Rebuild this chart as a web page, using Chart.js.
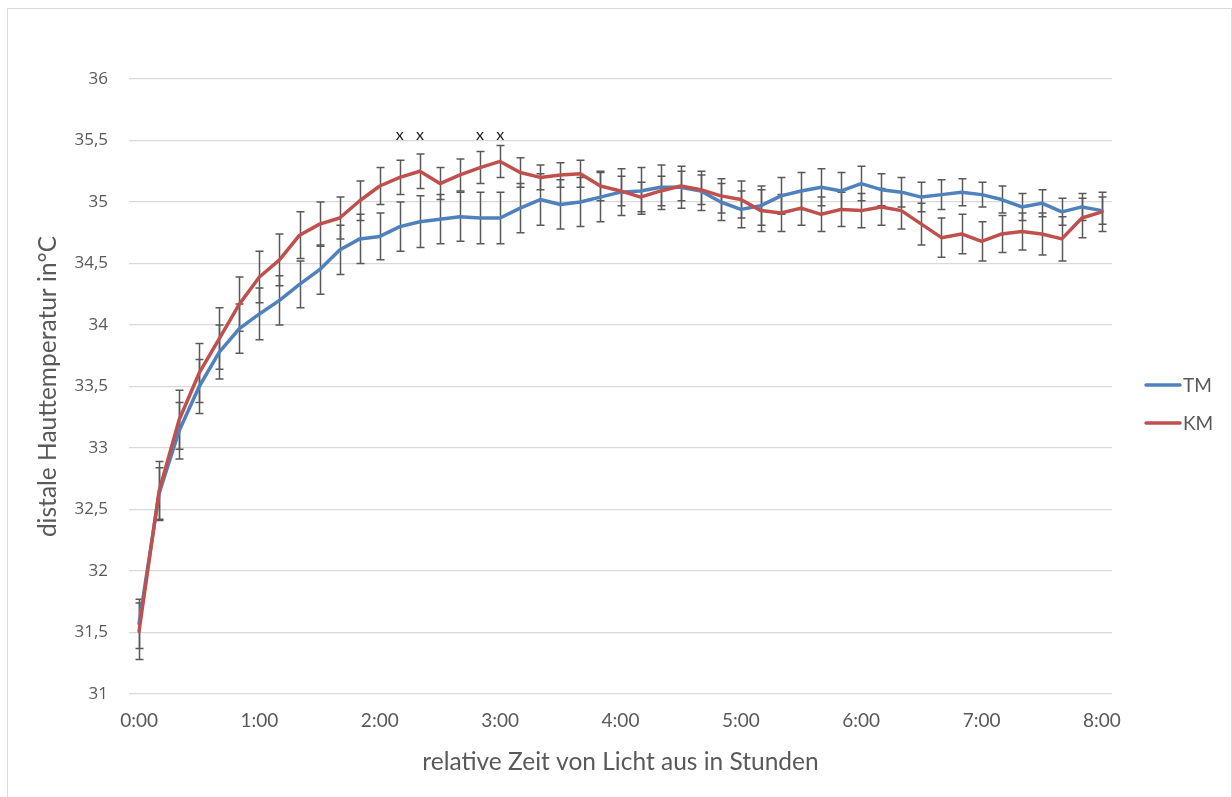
<!DOCTYPE html>
<html lang="de">
<head>
<meta charset="utf-8">
<title>Distale Hauttemperatur</title>
<script src="https://cdn.jsdelivr.net/npm/chart.js@4.4.1/dist/chart.umd.min.js"></script>
<style>
  html, body { margin: 0; padding: 0; background: #ffffff; }
  canvas { display: block; }
</style>
</head>
<body>
<canvas id="chart" width="1232" height="797"></canvas>
<script>
// Zeitpunkte (10-Minuten-Raster nach "Licht aus")
const timeLabels = [
  '0:00','0:10','0:20','0:30','0:40','0:50',
  '1:00','1:10','1:20','1:30','1:40','1:50',
  '2:00','2:10','2:20','2:30','2:40','2:50',
  '3:00','3:10','3:20','3:30','3:40','3:50',
  '4:00','4:10','4:20','4:30','4:40','4:50',
  '5:00','5:10','5:20','5:30','5:40','5:50',
  '6:00','6:10','6:20','6:30','6:40','6:50',
  '7:00','7:10','7:20','7:30','7:40','7:50',
  '8:00'
];

// beschriftete Stunden auf der x-Achse
const hourTicks = ['0:00','1:00','2:00','3:00','4:00','5:00','6:00','7:00','8:00'];

// Beschriftung der y-Achse (°C)
const yTickLabels = ['31','31,5','32','32,5','33','33,5','34','34,5','35','35,5','36'];

// TM: Mittelwerte und Fehlerbalken
const tmValues = [
  31.57, 32.63, 33.14, 33.50, 33.78, 33.97,
  34.09, 34.20, 34.33, 34.45, 34.61, 34.70,
  34.72, 34.80, 34.84, 34.86, 34.88, 34.87,
  34.87, 34.95, 35.02, 34.98, 35.00, 35.04,
  35.08, 35.09, 35.12, 35.12, 35.09, 35.00,
  34.94, 34.97, 35.05, 35.09, 35.12, 35.09,
  35.15, 35.10, 35.08, 35.04, 35.06, 35.08,
  35.06, 35.02, 34.96, 34.99, 34.92, 34.96,
  34.93
];
const tmErrors = [
  0.20, 0.21, 0.23, 0.22, 0.22, 0.20,
  0.21, 0.20, 0.19, 0.20, 0.20, 0.20,
  0.19, 0.20, 0.21, 0.20, 0.20, 0.21,
  0.21, 0.20, 0.21, 0.20, 0.20, 0.20,
  0.19, 0.19, 0.18, 0.17, 0.16, 0.15,
  0.15, 0.16, 0.15, 0.15, 0.15, 0.15,
  0.14, 0.13, 0.12, 0.12, 0.12, 0.11,
  0.10, 0.11, 0.11, 0.11, 0.11, 0.11,
  0.11
];

// KM: Mittelwerte und Fehlerbalken
const kmValues = [
  31.51, 32.65, 33.23, 33.61, 33.89, 34.17,
  34.39, 34.53, 34.73, 34.82, 34.87, 35.01,
  35.13, 35.20, 35.25, 35.15, 35.22, 35.28,
  35.33, 35.24, 35.20, 35.22, 35.23, 35.13,
  35.09, 35.04, 35.09, 35.13, 35.10, 35.05,
  35.02, 34.93, 34.91, 34.95, 34.90, 34.94,
  34.93, 34.96, 34.93, 34.82, 34.71, 34.74,
  34.68, 34.74, 34.76, 34.74, 34.70, 34.87,
  34.92
];
const kmErrors = [
  0.23, 0.24, 0.24, 0.24, 0.25, 0.22,
  0.21, 0.21, 0.19, 0.18, 0.17, 0.16,
  0.15, 0.14, 0.14, 0.13, 0.13, 0.13,
  0.13, 0.12, 0.10, 0.10, 0.11, 0.12,
  0.12, 0.12, 0.12, 0.12, 0.12, 0.14,
  0.15, 0.17, 0.15, 0.14, 0.14, 0.14,
  0.14, 0.15, 0.15, 0.17, 0.16, 0.16,
  0.16, 0.15, 0.15, 0.17, 0.18, 0.16,
  0.16
];

// signifikante Unterschiede (mit "x" markiert) und Höhe der Markierung
const significantTimes = ['2:10', '2:20', '2:50', '3:00'];
const significanceLevel = 35.55;

const seriesNames = ['TM', 'KM'];
const seriesColors = ['#4f81bd', '#c0504d'];

const textColor = '#595959';

// Rahmen um die gesamte Grafik
const frame = {
  id: 'frame',
  beforeDraw(chart) {
    const { ctx, width, height } = chart;
    ctx.save();
    ctx.fillStyle = '#ffffff';
    ctx.fillRect(0, 0, width, height);
    ctx.strokeStyle = '#d9d9d9';
    ctx.lineWidth = 1;
    ctx.strokeRect(7.5, 8.5, width - 8, height + 10);
    ctx.restore();
  }
};

// Fehlerbalken (± Fehler) je Datenpunkt
const errorBars = {
  id: 'errorBars',
  beforeDatasetsDraw(chart) {
    const { ctx } = chart;
    const x = chart.scales.x, y = chart.scales.y;
    const cap = 4;
    ctx.save();
    ctx.strokeStyle = '#595959';
    ctx.lineWidth = 1.5;
    chart.data.datasets.forEach(ds => {
      ds.data.forEach((v, i) => {
        const e = ds.errors[i];
        const px = Math.round(x.getPixelForValue(i)) + 0.5;
        const top = y.getPixelForValue(v + e);
        const bottom = y.getPixelForValue(v - e);
        ctx.beginPath();
        ctx.moveTo(px, top);
        ctx.lineTo(px, bottom);
        ctx.moveTo(px - cap, top);
        ctx.lineTo(px + cap, top);
        ctx.moveTo(px - cap, bottom);
        ctx.lineTo(px + cap, bottom);
        ctx.stroke();
      });
    });
    ctx.restore();
  }
};

// "x"-Markierungen über den signifikanten Zeitpunkten
const significanceMarks = {
  id: 'significanceMarks',
  afterDatasetsDraw(chart) {
    const { ctx } = chart;
    const x = chart.scales.x, y = chart.scales.y;
    ctx.save();
    ctx.fillStyle = '#1a1a1a';
    ctx.font = '16px Lato';
    ctx.textAlign = 'center';
    ctx.textBaseline = 'middle';
    significantTimes.forEach(t => {
      const i = timeLabels.indexOf(t);
      ctx.fillText('x', x.getPixelForValue(i), y.getPixelForValue(significanceLevel));
    });
    ctx.restore();
  }
};

// Legende rechts neben dem Diagramm
const sideLegend = {
  id: 'sideLegend',
  afterDraw(chart) {
    const { ctx, chartArea } = chart;
    const x0 = chartArea.right + 34;
    const y0 = 385;
    ctx.save();
    ctx.font = '19px Lato';
    ctx.textBaseline = 'middle';
    ctx.textAlign = 'left';
    seriesNames.forEach((name, k) => {
      const yy = y0 + k * 38;
      ctx.strokeStyle = seriesColors[k];
      ctx.lineWidth = 3.5;
      ctx.lineCap = 'round';
      ctx.beginPath();
      ctx.moveTo(x0, yy);
      ctx.lineTo(x0 + 34, yy);
      ctx.stroke();
      ctx.fillStyle = textColor;
      ctx.fillText(name, x0 + 37, yy + 1);
    });
    ctx.restore();
  }
};

new Chart(document.getElementById('chart'), {
  type: 'line',
  data: {
    labels: timeLabels,
    datasets: [
      {
        label: seriesNames[0],
        data: tmValues,
        errors: tmErrors,
        borderColor: seriesColors[0],
        backgroundColor: seriesColors[0],
        order: 2
      },
      {
        label: seriesNames[1],
        data: kmValues,
        errors: kmErrors,
        borderColor: seriesColors[1],
        backgroundColor: seriesColors[1],
        order: 1
      }
    ]
  },
  options: {
    responsive: false,
    animation: false,
    devicePixelRatio: 1,
    layout: { padding: { top: 79, right: 120, bottom: 0, left: 0 } },
    elements: {
      line: { borderWidth: 3.5, tension: 0, borderJoinStyle: 'round', borderCapStyle: 'round', fill: false },
      point: { radius: 0, hoverRadius: 0 }
    },
    plugins: {
      legend: { display: false },
      tooltip: { enabled: false }
    },
    scales: {
      x: {
        type: 'category',
        offset: true,
        grid: { display: false, drawTicks: false },
        border: { display: false },
        ticks: {
          autoSkip: false,
          maxRotation: 0,
          padding: 15,
          color: textColor,
          font: { family: 'Lato', size: 19 },
          callback: (v, i) => hourTicks.includes(timeLabels[i]) ? timeLabels[i] : ''
        },
        title: {
          display: true,
          text: 'relative Zeit von Licht aus in Stunden',
          color: textColor,
          font: { family: 'Lato', size: 24.5 },
          padding: { top: 0, bottom: 20 }
        },
        afterFit(scale) { scale.height = 103; }
      },
      y: {
        min: 31,
        max: 36,
        grid: { color: '#d9d9d9', lineWidth: 1.3, drawTicks: false },
        border: { display: false },
        ticks: {
          stepSize: 0.5,
          padding: 21,
          color: textColor,
          font: { family: 'Open Sans', size: 17 },
          callback: (v, i) => yTickLabels[i]
        },
        title: {
          display: true,
          text: 'distale Hauttemperatur in°C',
          color: textColor,
          font: { family: 'Lato', size: 24.5 },
          padding: { top: 33, bottom: 0 }
        },
        afterFit(scale) { scale.width = 129; }
      }
    }
  },
  plugins: [frame, errorBars, significanceMarks, sideLegend]
});
</script>
</body>
</html>
